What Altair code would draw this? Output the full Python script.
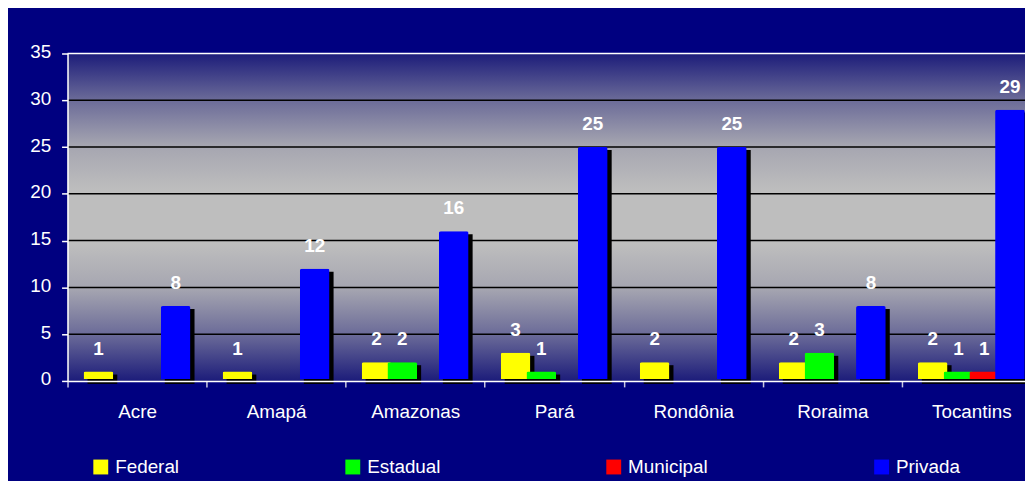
import altair as alt
import pandas as pd

states = ["Acre", "Amapá", "Amazonas", "Pará", "Rondônia", "Roraima", "Tocantins"]
types = ["Federal", "Estadual", "Municipal", "Privada"]
federal = [1, 1, 2, 3, 2, 2, 2]
estadual = [0, 0, 2, 1, 0, 3, 1]
municipal = [0, 0, 0, 0, 0, 0, 1]
privada = [8, 12, 16, 25, 25, 8, 29]
colors = ["#FFFF00", "#00FF00", "#FF0000", "#0000FF"]
y_ticks = [0, 5, 10, 15, 20, 25, 30, 35]

rows = []
for t, vals in zip(types, [federal, estadual, municipal, privada]):
    for s, v in zip(states, vals):
        rows.append({"estado": s, "tipo": t, "valor": v})
df = pd.DataFrame(rows)

FONT = "Liberation Sans"
W, H, XR = 965, 330, 981

yscale = alt.Scale(domain=[0, 35], nice=False)
xscale = alt.Scale(domain=states, rangeMax=XR, paddingInner=0, paddingOuter=0)
oscale = alt.Scale(domain=types, paddingInner=0, paddingOuter=0.7, align=0.5)
oscale_shadow = alt.Scale(domain=types, paddingInner=0, paddingOuter=0.7, align=0.61)

yaxis = alt.Axis(
    title=None, values=y_ticks, grid=False, domainColor="white", domainWidth=1.5,
    tickColor="white", tickSize=6, tickWidth=1.5, labelColor="white",
    labelFontSize=19, labelFont=FONT, labelPadding=11, labelOffset=-2, zindex=1,
)

bg = alt.Chart(pd.DataFrame({"a": [0]})).mark_rect(
    fill=alt.Gradient(
        gradient="linear",
        stops=[
            alt.GradientStop(color="#1c1c7a", offset=0),
            alt.GradientStop(color="#6a6a98", offset=0.14),
            alt.GradientStop(color="#a5a5b0", offset=0.28),
            alt.GradientStop(color="#bebebe", offset=0.42),
            alt.GradientStop(color="#bebebe", offset=0.58),
            alt.GradientStop(color="#a5a5b0", offset=0.72),
            alt.GradientStop(color="#6a6a98", offset=0.86),
            alt.GradientStop(color="#1c1c7a", offset=1),
        ],
        x1=0, x2=0, y1=0, y2=1,
    )
).encode(x=alt.value(0), x2=alt.value(W), y=alt.value(0), y2=alt.value(H))

grid = alt.Chart(pd.DataFrame({"valor": y_ticks[1:]})).mark_rule(strokeWidth=1.5).encode(
    y=alt.Y("valor:Q", scale=yscale, axis=yaxis),
    color=alt.condition(alt.datum.valor == 35, alt.value("white"), alt.value("black")),
)

base = alt.Chart(df).transform_filter(alt.datum.valor > 0)

xenc = alt.X(
    "estado:N", sort=states, scale=xscale,
    axis=alt.Axis(
        title=None, labelAngle=0, tickBand="extent", domainColor="white", domainWidth=1.5,
        tickColor="#c8c8e0", tickSize=6, tickWidth=1.5, labelColor="white",
        labelFontSize=19, labelFont=FONT, labelPadding=16, zindex=1,
    ),
)
yenc = alt.Y("valor:Q", scale=yscale, axis=yaxis)

shadow = base.mark_bar(width=30, color="black", yOffset=3, y2Offset=-3).encode(
    x=xenc, xOffset=alt.XOffset("tipo:N", sort=types, scale=oscale_shadow), y=yenc
)

bars = base.mark_bar(
    width=30, yOffset=-2, y2Offset=2, cornerRadiusTopLeft=2, cornerRadiusTopRight=2
).encode(
    x=xenc, xOffset=alt.XOffset("tipo:N", sort=types, scale=oscale), y=yenc,
    color=alt.Color(
        "tipo:N", sort=types, scale=alt.Scale(domain=types, range=colors),
        legend=alt.Legend(
            title=None, orient="none", legendX=24, legendY=407, direction="horizontal",
            symbolType="square", symbolSize=225, symbolStrokeWidth=0, symbolOpacity=1,
            labelFontSize=19, labelColor="white", labelFont=FONT, labelOffset=5,
            columnPadding=165, gridAlign="each", padding=0,
        ),
    ),
)

labels = base.mark_text(
    dy=-17, baseline="alphabetic", fontWeight="bold", fontSize=19, color="white", font=FONT
).encode(
    x=xenc, xOffset=alt.XOffset("tipo:N", sort=types, scale=oscale), y=yenc,
    text=alt.Text("valor:Q"),
)

front = alt.layer(bars, labels)

chart = alt.layer(bg, grid, shadow, front).resolve_scale(
    xOffset="independent"
).properties(
    width=W, height=H,
    autosize=alt.AutoSizeParams(type="none"),
    padding={"left": 60, "top": 44, "right": 0, "bottom": 100},
    background="#000080",
).configure_view(stroke=None)

chart.save("out.html", embed_options={"renderer": "svg", "actions": False})
